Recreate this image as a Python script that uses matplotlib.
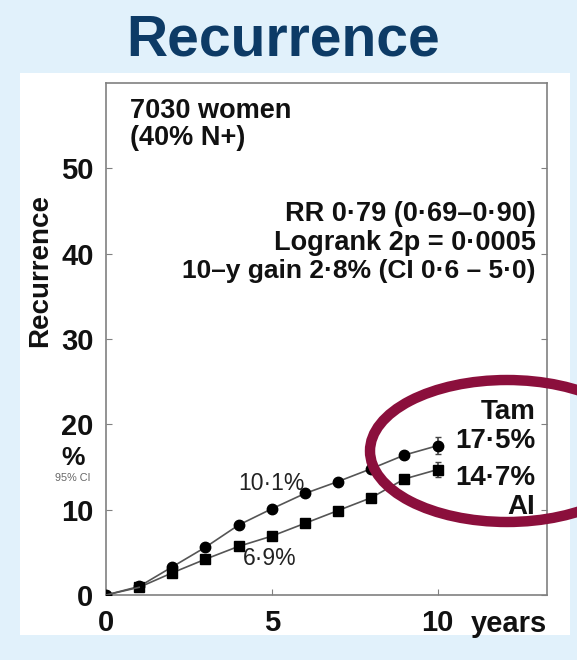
import matplotlib
matplotlib.use("Agg")
import matplotlib.pyplot as plt
from matplotlib.patches import Ellipse, Rectangle

plt.rcParams['font.family'] = ['Liberation Sans', 'DejaVu Sans']

years = [0, 1, 2, 3, 4, 5, 6, 7, 8, 9, 10]
tam = [0, 1.0, 3.3, 5.6, 8.2, 10.1, 11.9, 13.3, 14.8, 16.4, 17.5]
ai = [0, 0.9, 2.6, 4.2, 5.7, 6.9, 8.4, 9.9, 11.4, 13.6, 14.7]
err_year = [10]
tam_err = [1.0]
ai_err = [0.9]
yticks = [0, 10, 20, 30, 40, 50]
xticks = [0, 5, 10]

W, H = 577, 660
fig = plt.figure(figsize=(W / 100, H / 100), dpi=100)
fig.patch.set_facecolor('#e1f1fb')

def fx(px):
    return px / W

def fy(py):
    return 1 - py / H

# white panel
fig.patches.append(Rectangle((fx(20), fy(635)), fx(570) - fx(20), fy(73) - fy(635),
                             transform=fig.transFigure, facecolor='white', edgecolor='none', zorder=-5))

fig.text(fx(283), fy(40), 'Recurrence', ha='center', va='center', fontsize=41,
         fontweight='bold', color='#0d3b66')

ax = fig.add_axes([fx(106), fy(595), fx(547) - fx(106), fy(83) - fy(595)])
ax.set_zorder(2)
ax.set_facecolor('white')
ax.set_xlim(0, 13.3)
ax.set_ylim(0, 60)
for s in ax.spines.values():
    s.set_color('#808080')
    s.set_linewidth(1.2)

ax.plot(years, tam, color='#555555', lw=1.2, marker='o', ms=7.5, mfc='black', mec='black', zorder=3)
ax.plot(years[1:], ai[1:], color='#555555', lw=1.2, marker='s', ms=7, mfc='black', mec='black', zorder=3)
ax.plot(years[:2], ai[:2], color='#555555', lw=1.2, zorder=3)
ax.errorbar(err_year, [tam[-1]], yerr=tam_err, fmt='none', ecolor='#444444', elinewidth=1.2, capsize=2.5, zorder=2)
ax.errorbar(err_year, [ai[-1]], yerr=ai_err, fmt='none', ecolor='#444444', elinewidth=1.2, capsize=2.5, zorder=2)

ax.set_yticks(yticks)
ax.set_xticks(xticks)
ax.tick_params(axis='y', direction='in', length=4, color='#808080', right=True,
               labelsize=21, pad=9)
ax.tick_params(axis='x', direction='in', length=4, color='#808080', labelsize=21, pad=10)
for lab in ax.get_xticklabels() + ax.get_yticklabels():
    lab.set_fontweight('bold')
    lab.set_color('#111111')

txt = dict(color='#111111', fontweight='bold')
ax.text(11.0, -1.75, 'years', ha='left', va='top', fontsize=21, **txt)
ax.text(0.73, 56.7, '7030 women', ha='left', va='center', fontsize=19.5, **txt)
ax.text(0.73, 53.6, '(40% N+)', ha='left', va='center', fontsize=19.5, **txt)
ax.text(12.95, 44.6, 'RR 0·79 (0·69–0·90)', ha='right', va='center', fontsize=19.5, **txt)
ax.text(12.95, 41.3, 'Logrank 2p = 0·0005', ha='right', va='center', fontsize=19.5, **txt)
ax.text(12.95, 38.0, '10–y gain 2·8% (CI 0·6 – 5·0)', ha='right', va='center', fontsize=19, **txt)
ax.text(4.98, 13.1, '10·1%', ha='center', va='center', fontsize=16.5, color='#222222')
ax.text(4.95, 4.3, '6·9%', ha='center', va='center', fontsize=16.5, color='#222222')
ax.text(12.95, 21.5, 'Tam', ha='right', va='center', fontsize=20, **txt)
ax.text(12.95, 18.0, '17·5%', ha='right', va='center', fontsize=20, **txt)
ax.text(12.95, 13.7, '14·7%', ha='right', va='center', fontsize=20, **txt)
ax.text(12.95, 10.3, 'AI', ha='right', va='center', fontsize=20, **txt)

fig.text(fx(40), fy(270), 'Recurrence', rotation=90, ha='center', va='center', fontsize=20, **txt)
fig.text(fx(73), fy(458), '%', ha='center', va='center', fontsize=19, **txt)
fig.text(fx(73), fy(478), '95% CI', ha='center', va='center', fontsize=7.8, color='#666666')

ell = Ellipse((fx(507), fy(451)), width=2 * 137 / W, height=2 * 71 / H, transform=fig.transFigure,
              facecolor='none', edgecolor='#8b0f3c', linewidth=7.5, zorder=10)
fig.patches.append(ell)

fig.savefig('out.png', dpi=100, facecolor=fig.get_facecolor())
